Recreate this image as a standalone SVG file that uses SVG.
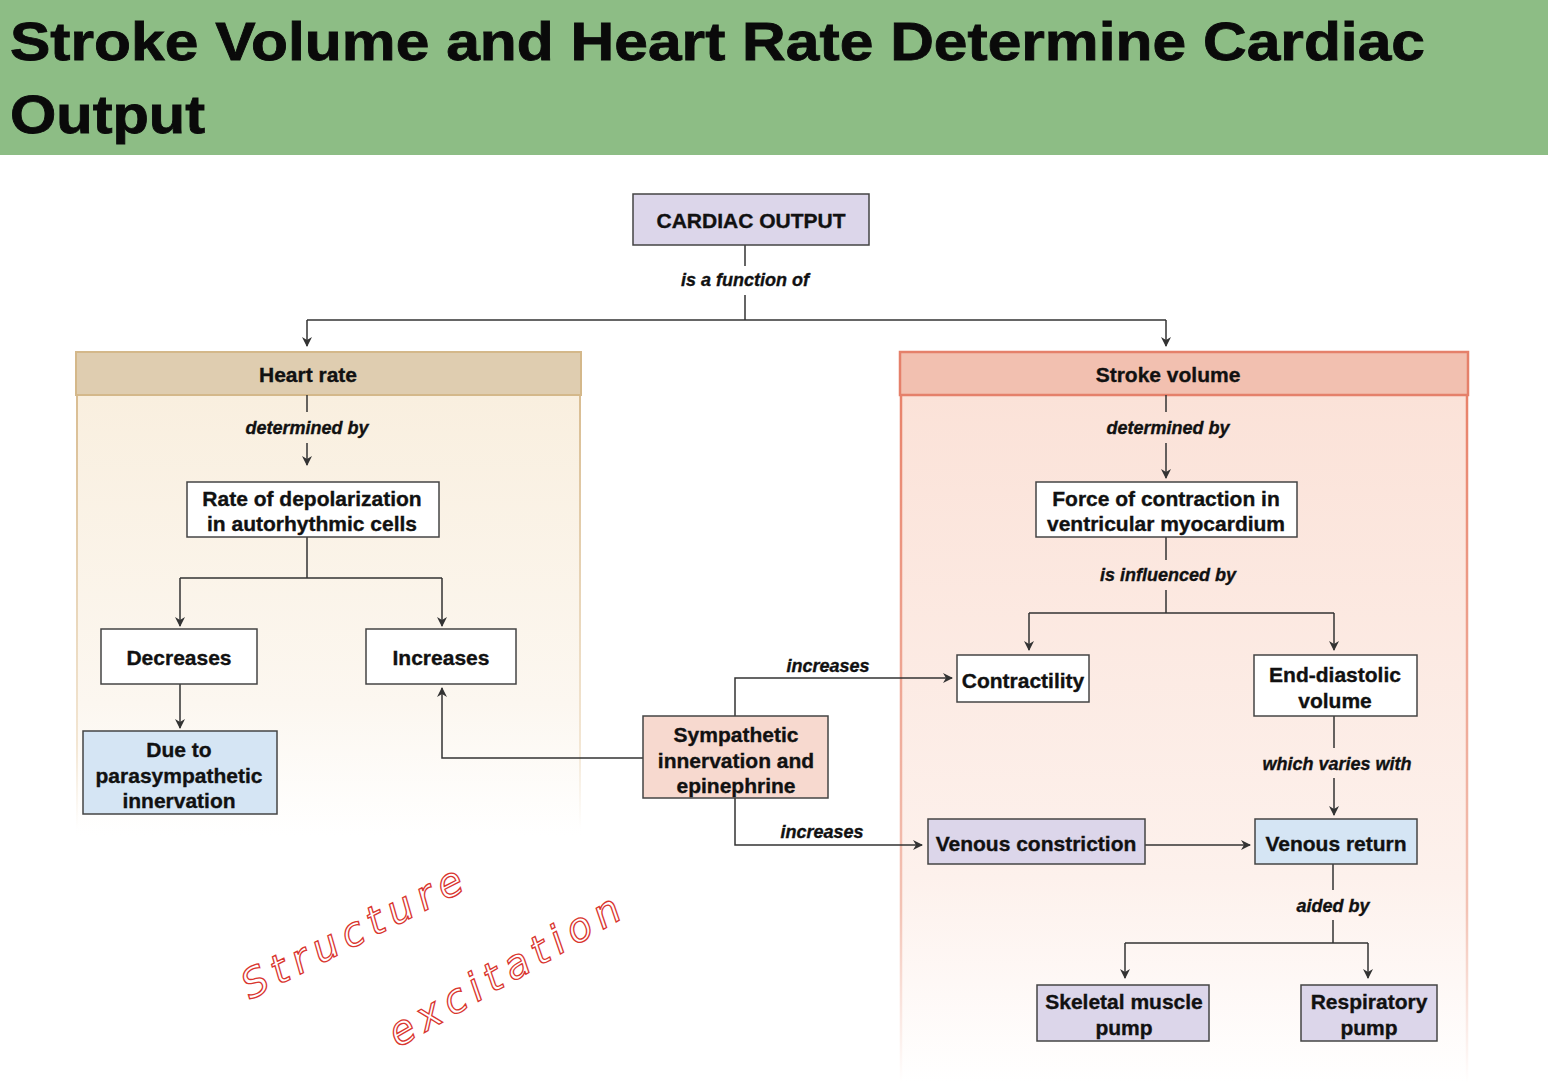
<svg xmlns="http://www.w3.org/2000/svg" width="1558" height="1083" viewBox="0 0 1558 1083">
<defs>
<marker id="ah" markerWidth="10" markerHeight="10" refX="9" refY="5" orient="auto" markerUnits="userSpaceOnUse"><path d="M0,0 L10,5 L0,10 L3,5 Z" fill="#333"/></marker>
<linearGradient id="gHR" x1="0" y1="0" x2="0" y2="1"><stop offset="0" stop-color="#f9efdf"/><stop offset="0.7" stop-color="#fcf7f0"/><stop offset="1" stop-color="#ffffff"/></linearGradient>
<linearGradient id="gSV" x1="0" y1="0" x2="0" y2="1"><stop offset="0" stop-color="#fbe2d8"/><stop offset="0.7" stop-color="#fdf1ec"/><stop offset="1" stop-color="#ffffff"/></linearGradient>
<linearGradient id="gSVe" x1="0" y1="0" x2="0" y2="1"><stop offset="0" stop-color="#e8826a"/><stop offset="0.75" stop-color="#f3c3b5"/><stop offset="1" stop-color="#ffffff"/></linearGradient>
<linearGradient id="gHRe" x1="0" y1="0" x2="0" y2="1"><stop offset="0" stop-color="#d9bd92"/><stop offset="0.8" stop-color="#f3e6d3"/><stop offset="1" stop-color="#ffffff"/></linearGradient>
</defs>
<style>
.t{font-family:"Liberation Sans",Arial,sans-serif;font-weight:bold;fill:#111;text-anchor:middle;stroke:#111;stroke-width:0.35}
.n{font-size:21px}
.l{font-size:18px;font-style:italic}
.box{stroke:#444;stroke-width:1.5}
.w{fill:#fff}.lav{fill:#dcd6ea}.blu{fill:#d5e5f4}.pink{fill:#f7d9cf}
.c{fill:none;stroke:#333;stroke-width:1.5}
.hw{font-family:"DejaVu Sans",sans-serif;font-style:italic;font-size:40px;fill:none;stroke:#d9362f;stroke-width:1.3;letter-spacing:7px}
.ti{font-family:"Liberation Sans",Arial,sans-serif;font-weight:bold;font-size:53px;fill:#0a0a0a;stroke:#0a0a0a;stroke-width:0.8}
</style>
<rect width="1558" height="1083" fill="#fff"/>
<rect x="0" y="0" width="1548" height="155" fill="#8dbd85"/>
<text class="ti" x="10" y="60" textLength="1415" lengthAdjust="spacingAndGlyphs">Stroke Volume and Heart Rate Determine Cardiac</text>
<text class="ti" x="10" y="133" textLength="195" lengthAdjust="spacingAndGlyphs">Output</text>

<g id="panel-hr">
<rect x="76" y="395" width="505" height="440" fill="url(#gHR)"/>
<path d="M77,395 V830 M580,395 V830" stroke="url(#gHRe)" stroke-width="2" fill="none"/>
<rect x="76" y="352" width="505" height="43" fill="#dfcdb0" stroke="#d4b88a" stroke-width="2"/>
<text class="t n" x="308" y="382">Heart rate</text>
</g>
<g id="panel-sv">
<rect x="900" y="395" width="568" height="688" fill="url(#gSV)"/>
<path d="M901,395 V1083 M1467,395 V1083" stroke="url(#gSVe)" stroke-width="2.5" fill="none"/>
<rect x="900" y="352" width="568" height="43" fill="#f2c0b0" stroke="#e5806a" stroke-width="2.5"/>
<text class="t n" x="1168" y="382">Stroke volume</text>
</g>

<g id="connectors">
<path class="c" d="M745,245 V266 M745,295 V320"/>
<path class="c" d="M307,320 H1166"/>
<path class="c" d="M307,320 V346" marker-end="url(#ah)"/>
<path class="c" d="M1166,320 V346" marker-end="url(#ah)"/>
<path class="c" d="M307,395 V412"/>
<path class="c" d="M307,443 V465" marker-end="url(#ah)"/>
<path class="c" d="M307,537 V578 M180,578 H442"/>
<path class="c" d="M180,578 V626" marker-end="url(#ah)"/>
<path class="c" d="M442,578 V626" marker-end="url(#ah)"/>
<path class="c" d="M180,684 V728" marker-end="url(#ah)"/>
<path class="c" d="M643,758 H442 V688" marker-end="url(#ah)"/>
<path class="c" d="M735,716 V678 H952" marker-end="url(#ah)"/>
<path class="c" d="M735,798 V845 H922" marker-end="url(#ah)"/>
<path class="c" d="M1166,395 V412"/>
<path class="c" d="M1166,443 V478" marker-end="url(#ah)"/>
<path class="c" d="M1166,537 V560 M1166,590 V613 M1029,613 H1334"/>
<path class="c" d="M1029,613 V650" marker-end="url(#ah)"/>
<path class="c" d="M1334,613 V650" marker-end="url(#ah)"/>
<path class="c" d="M1334,716 V748 M1334,778 V815" marker-end="url(#ah)"/>
<path class="c" d="M1145,845 H1250" marker-end="url(#ah)"/>
<path class="c" d="M1333,864 V890 M1333,920 V943 M1125,943 H1368"/>
<path class="c" d="M1125,943 V978" marker-end="url(#ah)"/>
<path class="c" d="M1368,943 V978" marker-end="url(#ah)"/>
<text class="t l" x="745" y="286">is a function of</text>
<text class="t l" x="307" y="434">determined by</text>
<text class="t l" x="1168" y="434">determined by</text>
<text class="t l" x="1168" y="581">is influenced by</text>
<text class="t l" x="828" y="672">increases</text>
<text class="t l" x="822" y="838">increases</text>
<text class="t l" x="1337" y="770">which varies with</text>
<text class="t l" x="1333" y="912">aided by</text>
</g>

<g id="n-co"><rect class="box lav" x="633" y="194" width="236" height="51"/><text class="t n" x="751" y="228">CARDIAC OUTPUT</text></g>
<g id="n-rate"><rect class="box w" x="187" y="482" width="252" height="55"/><text class="t n" x="312" y="506">Rate of depolarization</text><text class="t n" x="312" y="531">in autorhythmic cells</text></g>
<g id="n-dec"><rect class="box w" x="101" y="629" width="156" height="55"/><text class="t n" x="179" y="665">Decreases</text></g>
<g id="n-inc"><rect class="box w" x="366" y="629" width="150" height="55"/><text class="t n" x="441" y="665">Increases</text></g>
<g id="n-para"><rect class="box blu" x="83" y="731" width="194" height="83"/><text class="t n" x="179" y="757">Due to</text><text class="t n" x="179" y="783">parasympathetic</text><text class="t n" x="179" y="808">innervation</text></g>
<g id="n-sym"><rect class="box pink" x="643" y="716" width="185" height="82"/><text class="t n" x="736" y="742">Sympathetic</text><text class="t n" x="736" y="768">innervation and</text><text class="t n" x="736" y="793">epinephrine</text></g>
<g id="n-force"><rect class="box w" x="1036" y="482" width="261" height="55"/><text class="t n" x="1166" y="506">Force of contraction in</text><text class="t n" x="1166" y="531">ventricular myocardium</text></g>
<g id="n-contr"><rect class="box w" x="957" y="655" width="132" height="47"/><text class="t n" x="1023" y="688">Contractility</text></g>
<g id="n-edv"><rect class="box w" x="1254" y="655" width="163" height="61"/><text class="t n" x="1335" y="682">End-diastolic</text><text class="t n" x="1335" y="708">volume</text></g>
<g id="n-vc"><rect class="box lav" x="928" y="819" width="217" height="45"/><text class="t n" x="1036" y="851">Venous constriction</text></g>
<g id="n-vr"><rect class="box blu" x="1255" y="819" width="162" height="45"/><text class="t n" x="1336" y="851">Venous return</text></g>
<g id="n-skel"><rect class="box lav" x="1037" y="985" width="172" height="56"/><text class="t n" x="1124" y="1009">Skeletal muscle</text><text class="t n" x="1124" y="1035">pump</text></g>
<g id="n-resp"><rect class="box lav" x="1301" y="985" width="136" height="56"/><text class="t n" x="1369" y="1009">Respiratory</text><text class="t n" x="1369" y="1035">pump</text></g>

<text class="hw" transform="translate(250,1000) rotate(-27)">Structure</text>
<text class="hw" transform="translate(398,1048) rotate(-30)">excitation</text>
</svg>
